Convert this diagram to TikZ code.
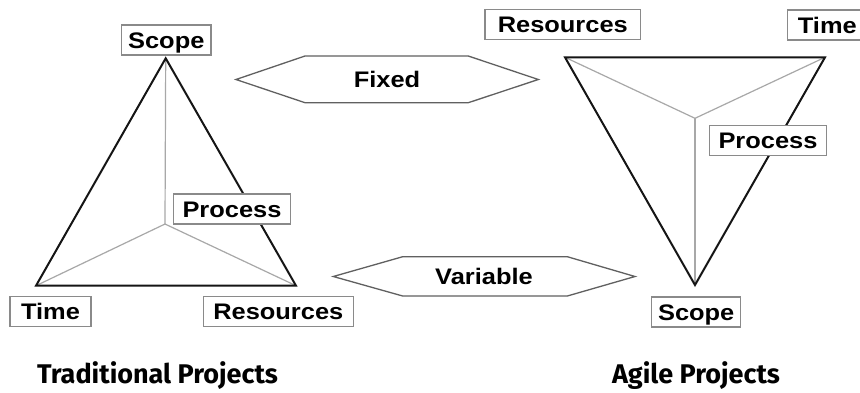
\documentclass[tikz,border=0pt]{standalone}
\usepackage{fontspec}
\setmainfont{Liberation Sans}
\newfontfamily\lblfont{Liberation Sans}[FakeStretch=1.13]
\newfontfamily\ttlfont{Fira Sans}
\definecolor{boxgray}{HTML}{8A8A8A}
\definecolor{innergray}{HTML}{A8A8A8}
\definecolor{hexgray}{HTML}{606060}
\definecolor{edgeblack}{HTML}{151515}
\begin{document}
\begin{tikzpicture}[x=1pt,y=-1pt,
  lbl/.style={draw=boxgray, line width=1.3pt, fill=white, inner sep=0pt,
    font=\lblfont\bfseries\fontsize{22.5}{26}\selectfont, text=black,
    text height=16pt, text depth=0pt, minimum height=30pt},
  hextext/.style={inner sep=0pt, font=\lblfont\bfseries\fontsize{22.5}{26}\selectfont,
    text height=16pt, text depth=0pt},
  edge/.style={draw=edgeblack, line width=2pt, line join=miter},
  inner/.style={draw=innergray, line width=1.2pt},
  hexline/.style={draw=hexgray, line width=1.3pt, line join=miter},
  ttl/.style={inner sep=0pt, anchor=base, font=\ttlfont\bfseries\fontsize{27}{32}\selectfont}]
\useasboundingbox (0,0) rectangle (860,392);
\clip (0,0) rectangle (860,392);
\fill[white] (0,0) rectangle (860,392);

% left triangle (traditional)
\coordinate (lA) at (165.7,58.3);
\coordinate (lB) at (36,285.7);
\coordinate (lC) at (296,285.7);
\coordinate (lO) at (165,224);
\draw[inner] (lA) -- (lO);
\draw[inner] (lB) -- (lO);
\draw[inner] (lC) -- (lO);
\draw[edge] (lA) -- (lB) -- (lC) -- cycle;

% right triangle (agile)
\coordinate (rD) at (565,57.3);
\coordinate (rE) at (825,57.3);
\coordinate (rF) at (695,285);
\coordinate (rP) at (695,118.3);
\draw[inner] (rD) -- (rP);
\draw[inner] (rE) -- (rP);
\draw[inner] (rF) -- (rP);
\draw[edge] (rD) -- (rE) -- (rF) -- cycle;

% labels left
\node[lbl, minimum width=89.3pt] (lscope) at (166.3,40) {Scope};
\node[lbl, minimum width=117.4pt] (lprocess) at (232,209) {Process};
\node[lbl, minimum width=81pt] (ltime) at (50.5,311.7) {Time};
\node[lbl, minimum width=150pt] (lres) at (278.3,311.5) {Resources};

% labels right
\node[lbl, minimum width=155.7pt] (rres) at (562.8,24.7) {Resources};
\node[lbl, minimum width=80pt, anchor=west] (rtime) at (786.7,25) {\hspace*{10pt}Time\hspace*{10pt}};
\node[lbl, minimum width=117.4pt] (rprocess) at (768,140.3) {Process};
\node[lbl, minimum width=89pt] (rscope) at (696.2,312) {Scope};

% Fixed hexagon
\coordinate (f1) at (236,79.5);
\coordinate (f2) at (305,56);
\coordinate (f3) at (468.3,56);
\coordinate (f4) at (538.3,79.5);
\coordinate (f5) at (468.3,102.7);
\coordinate (f6) at (305,102.7);
\draw[hexline] (f1) -- (f2) -- (f3) -- (f4) -- (f5) -- (f6) -- cycle;
\node[hextext] (fixed) at (387,79.5) {Fixed};

% Variable hexagon
\coordinate (v1) at (333.3,276.5);
\coordinate (v2) at (402.7,256.7);
\coordinate (v3) at (567.3,256.7);
\coordinate (v4) at (635,276.5);
\coordinate (v5) at (567.3,296);
\coordinate (v6) at (402.7,296);
\draw[hexline] (v1) -- (v2) -- (v3) -- (v4) -- (v5) -- (v6) -- cycle;
\node[hextext] (variable) at (484,276.5) {Variable};

% titles
\node[ttl] (ttrad) at (157.5,383.3) {Traditional Projects};
\node[ttl] (tagile) at (696,383.3) {Agile Projects};
\end{tikzpicture}
\end{document}
